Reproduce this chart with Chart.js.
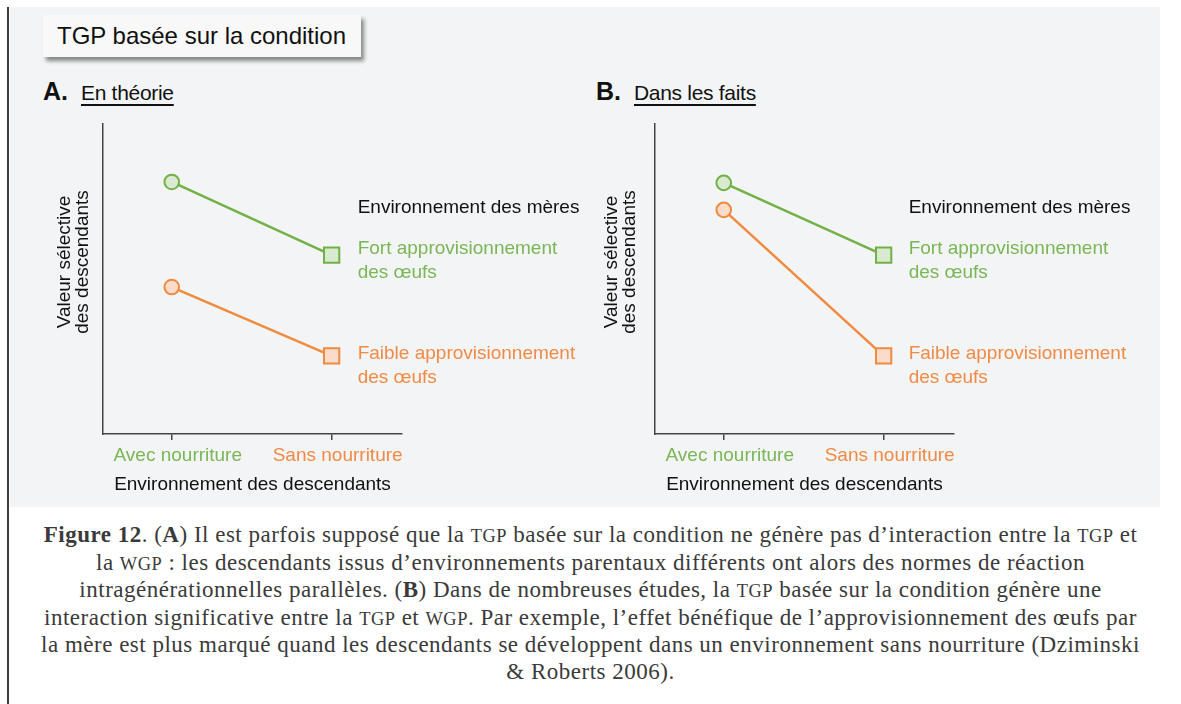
<!DOCTYPE html>
<html lang="fr">
<head>
<meta charset="utf-8">
<script src="https://cdn.jsdelivr.net/npm/chart.js@4.4.1/dist/chart.umd.min.js"></script>
<style>
  html, body { margin: 0; padding: 0; background: #fff; }
  body { width: 1181px; height: 704px; position: relative; overflow: hidden; font-family: "Liberation Sans", Arial, sans-serif; }
  #bord { position: absolute; left: 7px; top: 7px; width: 2px; height: 697px; background: #3c3c3c; }
  #panneau { position: absolute; left: 10px; top: 7px; width: 1150px; height: 500px; background: #f3f4f5; }
  #titre { position: absolute; left: 43px; top: 15px; width: 318px; height: 42px; background: #f8f8f8;
           box-shadow: 3px 4px 4px rgba(0,0,0,0.45); font-size: 24px; line-height: 42px; color: #111; }
  #titre span { padding-left: 14px; }
  .entete { position: absolute; top: 77px; color: #111; white-space: nowrap; }
  .entete b { font-size: 25px; font-weight: bold; }
  .entete u { font-size: 21px; margin-left: 13px; text-underline-offset: 4px; letter-spacing: -0.3px; }
  canvas { position: absolute; }
  #legende { position: absolute; left: 0; top: 522px; width: 1181px; text-align: center;
             font-family: "Liberation Serif", "DejaVu Serif", serif; font-size: 23px; line-height: 26.5px;
             letter-spacing: 0.5px; color: #3a3a3a; white-space: nowrap; }
  .sc { font-size: 0.8em; }
</style>
</head>
<body>
<div id="bord"></div>
<div id="panneau"></div>
<div id="titre"><span>TGP basée sur la condition</span></div>
<div class="entete" style="left:43px"><b>A.</b><u>En théorie</u></div>
<div class="entete" style="left:596px"><b>B.</b><u>Dans les faits</u></div>

<div style="position:absolute;left:20px;top:110px;width:570px;height:400px"><canvas id="theorie"></canvas></div>
<div style="position:absolute;left:572px;top:110px;width:588px;height:400px"><canvas id="faits"></canvas></div>

<div id="legende">
<b>Figure 12</b>. (<b>A</b>) Il est parfois supposé que la <span class="sc">TGP</span> basée sur la condition ne génère pas d’interaction entre la <span class="sc">TGP</span> et<br>
la <span class="sc">WGP</span> : les descendants issus d’environnements parentaux différents ont alors des normes de réaction<br>
intragénérationnelles parallèles. (<b>B</b>) Dans de nombreuses études, la <span class="sc">TGP</span> basée sur la condition génère une<br>
interaction significative entre la <span class="sc">TGP</span> et <span class="sc">WGP</span>. Par exemple, l’effet bénéfique de l’approvisionnement des œufs par<br>
la mère est plus marqué quand les descendants se développent dans un environnement sans nourriture (Dziminski<br>
&amp; Roberts 2006).
</div>

<script>
// données (valeur sélective, échelle arbitraire 0-100)
const categories = ['Avec nourriture', 'Sans nourriture'];
const fortTheorie = [81.3, 57.7];
const faibleTheorie = [47.4, 25.2];
const fortFaits = [81, 57.7];
const faibleFaits = [72.3, 25.2];

const vert = '#72b147';
const orange = '#ef8a3e';
const texteVert = '#79b655';
const texteOrange = '#f08a45';
const police = '"Liberation Sans", Arial, sans-serif';

// textes dessinés à côté des derniers points + titre de l'axe y
const textesPlugin = {
    id: 'textes',
    afterDraw(chart, args, opts) {
        const {ctx, chartArea} = chart;
        ctx.save();
        ctx.font = '19px ' + police;
        ctx.textBaseline = 'middle';
        ctx.textAlign = 'left';

        const dernier = chart.getDatasetMeta(0).data[1];
        const x = dernier.x + opts.decalX;
        ctx.fillStyle = '#111';
        ctx.fillText('Environnement des mères', x, chartArea.top + 84);

        chart.data.datasets.forEach((ds, i) => {
            const pt = chart.getDatasetMeta(i).data[1];
            ctx.fillStyle = ds.couleurTexte;
            ds.etiquette.forEach((ligne, j) => {
                ctx.fillText(ligne, x, pt.y + ds.decalY + j * 24);
            });
        });

        // titre de l'axe y (deux lignes, pivoté)
        ctx.fillStyle = '#111';
        ctx.textAlign = 'center';
        ctx.translate(chartArea.left + opts.titreY, 262 - 110);
        ctx.rotate(-Math.PI / 2);
        ctx.fillText('Valeur sélective', 0, 0);
        ctx.fillText('des descendants', 0, 18);
        ctx.restore();
    }
};

function graphique(id, fort, faible, decalX, titreY) {
    const ctx = document.getElementById(id);
    const points = vals => vals.map((v, i) => ({x: i, y: v}));

    new Chart(ctx, {
        type: 'line',
        data: {
            datasets: [{
                data: points(fort),
                borderColor: vert,
                backgroundColor: '#d9ead0',
                borderWidth: 2.5,
                pointStyle: ['circle', 'rect'],
                pointRadius: [7.3, 10.8],
                pointBorderWidth: 2,
                pointBackgroundColor: '#d9ead0',
                etiquette: ['Fort approvisionnement', 'des œufs'],
                couleurTexte: texteVert,
                decalY: -6,
            }, {
                data: points(faible),
                borderColor: orange,
                backgroundColor: '#fbdccb',
                borderWidth: 2.5,
                pointStyle: ['circle', 'rect'],
                pointRadius: [7.3, 10.8],
                pointBorderWidth: 2,
                pointBackgroundColor: '#fbdccb',
                etiquette: ['Faible approvisionnement', 'des œufs'],
                couleurTexte: texteOrange,
                decalY: -2,
            }]
        },
        options: {
            responsive: true,
            maintainAspectRatio: false,
            animation: false,
            layout: {
                padding: {top: 14, right: ctx.parentNode.clientWidth - 83 - 299, left: 0, bottom: 0}
            },
            scales: {
                x: {
                    type: 'linear',
                    min: -0.43,
                    max: 1.44,
                    afterBuildTicks: scale => { scale.ticks = [{value: 0}, {value: 1}]; },
                    afterFit: scale => { scale.height = 76; },
                    grid: {
                        drawOnChartArea: false,
                        tickLength: 6,
                        color: '#444',
                        lineWidth: 1.5,
                    },
                    border: {display: true, color: '#444', width: 1.5},
                    ticks: {
                        callback: v => categories[v],
                        color: c => c.index === 0 ? texteVert : texteOrange,
                        font: {family: police, size: 19},
                        padding: 4,
                        labelOffset: 6,
                        maxRotation: 0,
                    },
                    title: {
                        display: true,
                        text: 'Environnement des descendants',
                        color: '#111',
                        font: {family: police, size: 19},
                        padding: {top: 0, bottom: 14},
                    },
                },
                y: {
                    min: 0,
                    max: 100,
                    afterFit: scale => { scale.width = 83; },
                    grid: {display: false},
                    border: {display: true, color: '#444', width: 1.5},
                    ticks: {display: false},
                },
            },
            plugins: {
                legend: {display: false},
                tooltip: {enabled: false},
                textes: {decalX: decalX, titreY: titreY},
            }
        },
        plugins: [textesPlugin]
    });
}

graphique('theorie', fortTheorie, faibleTheorie, 26, -38);
graphique('faits', fortFaits, faibleFaits, 25, -43);
</script>
</body>
</html>
